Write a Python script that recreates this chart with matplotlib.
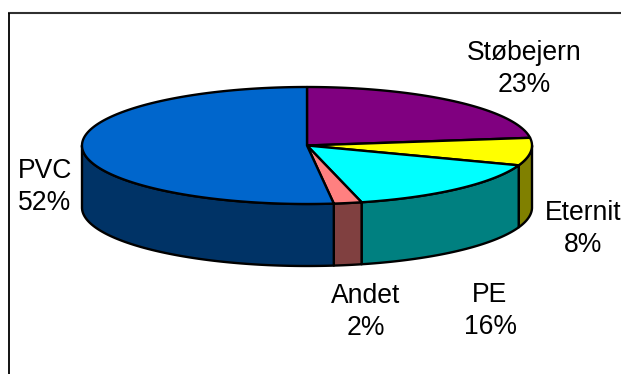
import numpy as np
import matplotlib
matplotlib.use("Agg")
import matplotlib.pyplot as plt

# Shares of pipe material, clockwise from twelve o'clock
materials = ["Støbejern", "Eternit", "PE", "Andet", "PVC"]
shares = [22.9, 7.6, 15.6, 2.0, 51.9]
top_colors = ["#800080", "#FFFF00", "#00FFFF", "#FF8080", "#0066CC"]
side_colors = ["#400040", "#808000", "#008080", "#804040", "#003366"]

plt.rcParams["font.family"] = ["Liberation Sans", "DejaVu Sans"]

fig = plt.figure(figsize=(6.21, 3.74), dpi=100)
ax = fig.add_axes([0, 0, 1, 1])
ax.set_xlim(0, 621)
ax.set_ylim(374, 0)
ax.axis("off")

CX, CY, RX, RY, DEPTH = 307, 145.5, 225, 58.5, 62
LW = 1.7


def rim(theta, drop=0.0):
    """Ellipse points for angles measured clockwise from the top."""
    return CX + RX * np.sin(theta), CY - RY * np.cos(theta) + drop


edges = 2 * np.pi * np.concatenate([[0], np.cumsum(shares)]) / np.sum(shares)

# Outer wall: only the part of the rim facing the viewer is visible
for a, b, color in zip(edges[:-1], edges[1:], side_colors):
    lo, hi = max(a, np.pi / 2), min(b, 3 * np.pi / 2)
    if hi <= lo:
        continue
    t = np.linspace(lo, hi, 200)
    x, y = rim(t)
    xb, yb = rim(t[::-1], DEPTH)
    ax.fill(np.r_[x, xb], np.r_[y, yb], facecolor=color, edgecolor="black",
            linewidth=LW, joinstyle="round", zorder=2)

# Top face
for a, b, color in zip(edges[:-1], edges[1:], top_colors):
    t = np.linspace(a, b, 300)
    x, y = rim(t)
    ax.fill(np.r_[CX, x], np.r_[CY, y], facecolor=color, edgecolor="black",
            linewidth=LW, joinstyle="round", zorder=3)

# Category labels with their rounded percentages
label_xy = [(524, 69), (583, 229), (490, 311), (366, 312), (45, 187)]
for name, share, (lx, ly) in zip(materials, shares, label_xy):
    ax.text(lx, ly, f"{name}\n{round(share)}%", ha="center", va="center",
            fontsize=19.1, color="black", linespacing=1.27, zorder=4)

# Chart area border, open towards the right and bottom
ax.plot([621, 8], [13, 13], color="#303030", linewidth=1.5, zorder=1,
        solid_capstyle="butt")
ax.plot([8.5, 8.5], [13, 374], color="black", linewidth=1.3, zorder=1,
        solid_capstyle="butt")

fig.savefig("out.png", dpi=100)
